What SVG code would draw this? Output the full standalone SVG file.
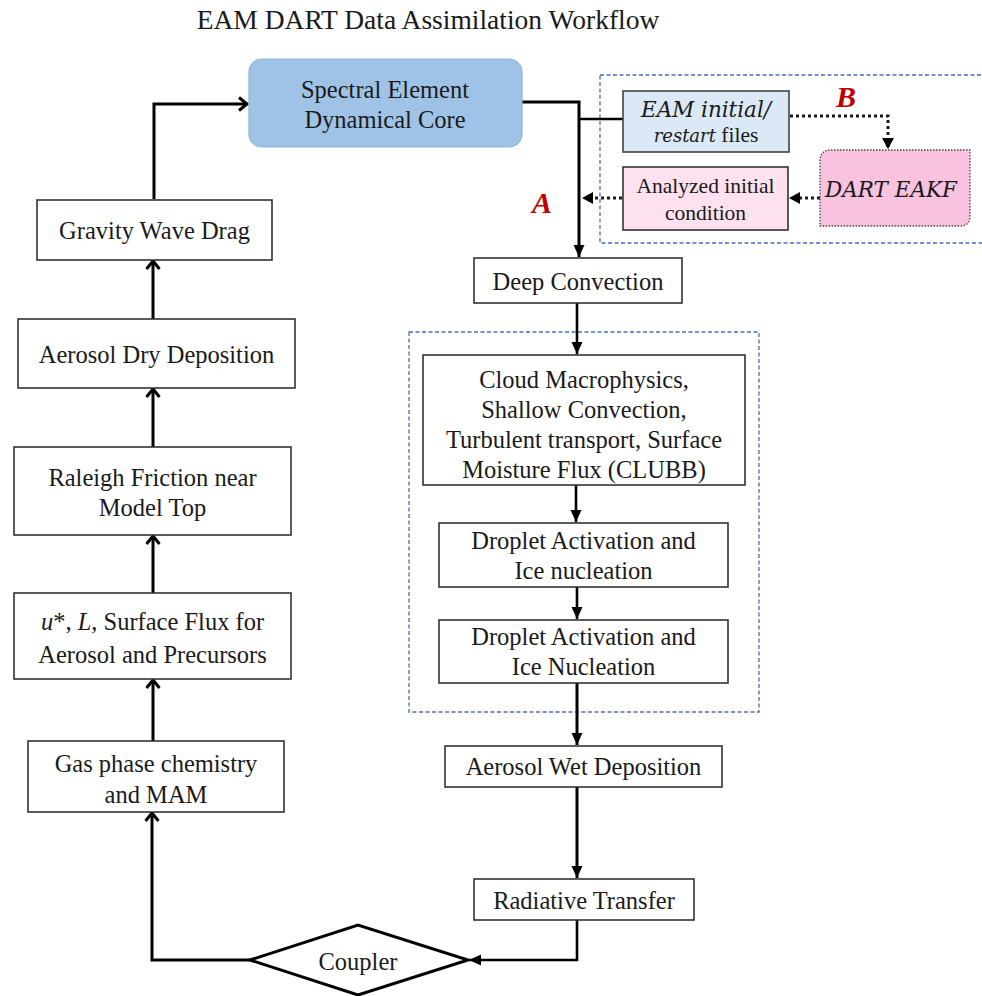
<svg xmlns="http://www.w3.org/2000/svg" width="982" height="996" viewBox="0 0 982 996">
<style>
  text { font-family: "Liberation Serif", "Times New Roman", serif; fill: #1a1a1a; }
  .t { font-size: 24.5px; text-anchor: middle; }
  .s { font-size: 21.5px; text-anchor: middle; }
  .it { font-family: "DejaVu Serif", "Liberation Serif", serif; font-style: italic; }
  .box { fill: #ffffff; stroke: #333333; stroke-width: 1.6; }
  .ln { fill: none; stroke: #000000; stroke-width: 3; }
  .ln2 { fill: none; stroke: #000000; stroke-width: 2.6; }
  .dot { fill: none; stroke: #1a1a1a; stroke-width: 3; stroke-dasharray: 3 3; }
  .grp { fill: none; stroke: #4a6fb5; stroke-width: 1.3; stroke-dasharray: 4 2.5; }
  .lab { font-size: 30px; font-weight: bold; font-style: italic; fill: #c00000; }
</style>
<defs>
  <marker id="chev" markerUnits="userSpaceOnUse" markerWidth="16" markerHeight="16" refX="13" refY="8" orient="auto">
    <path d="M5,1.5 L13,8 L5,14.5" fill="none" stroke="#000" stroke-width="3"/>
  </marker>
  <marker id="tri" markerUnits="userSpaceOnUse" markerWidth="14" markerHeight="14" refX="12" refY="7" orient="auto">
    <path d="M0,1.5 L12,7 L0,12.5 z" fill="#000"/>
  </marker>
</defs>

<text x="428" y="29" font-size="27.5" text-anchor="middle">EAM DART Data Assimilation Workflow</text>

<!-- group frames -->
<rect class="grp" x="600" y="75" width="390" height="168"/>
<rect class="grp" x="409" y="332" width="350" height="380"/>

<g id="connectors">
  <!-- left column -->
  <path class="ln" d="M154,199 V104 H247" marker-end="url(#chev)"/>
  <path class="ln" d="M153,319 V261" marker-end="url(#chev)"/>
  <path class="ln" d="M153,447 V389" marker-end="url(#chev)"/>
  <path class="ln" d="M153,593 V536" marker-end="url(#chev)"/>
  <path class="ln" d="M153,741 V680" marker-end="url(#chev)"/>
  <path class="ln" d="M250,960 H152 V813" marker-end="url(#chev)"/>
  <!-- right column -->
  <path class="ln" d="M522,102 H579 V257" marker-end="url(#tri)"/>
  <path class="ln2" d="M579,119 H623"/>
  <path class="ln2" d="M577,303 V354" marker-end="url(#tri)"/>
  <path class="ln2" d="M576,485 V522" marker-end="url(#tri)"/>
  <path class="ln2" d="M577,587 V619" marker-end="url(#tri)"/>
  <path class="ln" d="M577,683 V745" marker-end="url(#tri)"/>
  <path class="ln" d="M577,787 V878" marker-end="url(#tri)"/>
  <path class="ln2" d="M577,920 V960 H469" marker-end="url(#tri)"/>
  <!-- DA loop (dotted) -->
  <path class="dot" d="M790,116 H888 V147"/>
  <path d="M882,138 L888,149 L894,138 z" fill="#000"/>
  <path class="dot" d="M820,198 H798"/>
  <path d="M800,192 L789,198 L800,204 z" fill="#000"/>
  <path class="dot" d="M622,198 H592"/>
  <path d="M593,192 L582,198 L593,204 z" fill="#000"/>
</g>

<text class="lab" x="836" y="107">B</text>
<text class="lab" x="532" y="213">A</text>

<g id="spectral">
  <rect x="249" y="59" width="273" height="88" rx="13" fill="#9fc3e6" stroke="#8fb5dd" stroke-width="1.2"/>
  <text class="t" x="385" y="98" font-size="25">Spectral Element</text>
  <text class="t" x="385" y="128" font-size="25">Dynamical Core</text>
</g>

<g id="gravity">
  <rect class="box" x="37" y="200" width="235" height="60"/>
  <text class="t" x="154.5" y="239">Gravity Wave Drag</text>
</g>
<g id="drydep">
  <rect class="box" x="18" y="319" width="277" height="69"/>
  <text class="t" x="156.5" y="363">Aerosol Dry Deposition</text>
</g>
<g id="raleigh">
  <rect class="box" x="14" y="447" width="277" height="88"/>
  <text class="t" x="152.5" y="486">Raleigh Friction near</text>
  <text class="t" x="152.5" y="516">Model Top</text>
</g>
<g id="surfflux">
  <rect class="box" x="14" y="593" width="277" height="86"/>
  <text class="t" x="152.5" y="630"><tspan font-style="italic">u</tspan>*, <tspan font-style="italic">L</tspan>, Surface Flux for</text>
  <text class="t" x="152.5" y="663">Aerosol and Precursors</text>
</g>
<g id="gasphase">
  <rect class="box" x="28" y="741" width="256" height="71"/>
  <text class="t" x="156" y="772">Gas phase chemistry</text>
  <text class="t" x="156" y="803">and MAM</text>
</g>

<g id="eaminit">
  <rect x="623" y="91" width="166" height="61" fill="#dbe8f5" stroke="#444" stroke-width="1.6"/>
  <text class="s it" x="706" y="117" font-size="18">EAM initial/</text>
  <text class="s" x="706" y="142"><tspan class="it" font-size="18">restart</tspan> files</text>
</g>
<g id="analyzed">
  <rect x="623" y="167" width="165" height="63" fill="#fde1ef" stroke="#333" stroke-width="1.6"/>
  <text class="s" x="705.5" y="193">Analyzed initial</text>
  <text class="s" x="705.5" y="220">condition</text>
</g>
<g id="dart">
  <path d="M831,150 H970 V216 Q970 226 960 226 H820 V161 Q820 150 831 150 Z" fill="#f9c2df" stroke="#444" stroke-width="1.3" stroke-dasharray="1.5 1.5"/>
  <text class="s it" x="891" y="197" font-size="17.5">DART EAKF</text>
</g>

<g id="deepconv">
  <rect class="box" x="474" y="258" width="208" height="45"/>
  <text class="t" x="578" y="290">Deep Convection</text>
</g>
<g id="clubb">
  <rect class="box" x="423" y="355" width="322" height="130"/>
  <text class="t" x="584" y="388">Cloud Macrophysics,</text>
  <text class="t" x="584" y="418">Shallow Convection,</text>
  <text class="t" x="584" y="448">Turbulent transport, Surface</text>
  <text class="t" x="584" y="478">Moisture Flux (CLUBB)</text>
</g>
<g id="droplet1">
  <rect class="box" x="439" y="523" width="289" height="64"/>
  <text class="t" x="583.5" y="549">Droplet Activation and</text>
  <text class="t" x="583.5" y="579">Ice nucleation</text>
</g>
<g id="droplet2">
  <rect class="box" x="439" y="620" width="289" height="63"/>
  <text class="t" x="583.5" y="645">Droplet Activation and</text>
  <text class="t" x="583.5" y="675">Ice Nucleation</text>
</g>
<g id="wetdep">
  <rect class="box" x="445" y="746" width="277" height="41"/>
  <text class="t" x="583.5" y="775">Aerosol Wet Deposition</text>
</g>
<g id="radiative">
  <rect class="box" x="474" y="879" width="220" height="41"/>
  <text class="t" x="584" y="909">Radiative Transfer</text>
</g>
<g id="coupler">
  <polygon points="250,960 358,925 468,960 358,995" fill="#fff" stroke="#000" stroke-width="3"/>
  <text class="t" x="358" y="970">Coupler</text>
</g>
</svg>
